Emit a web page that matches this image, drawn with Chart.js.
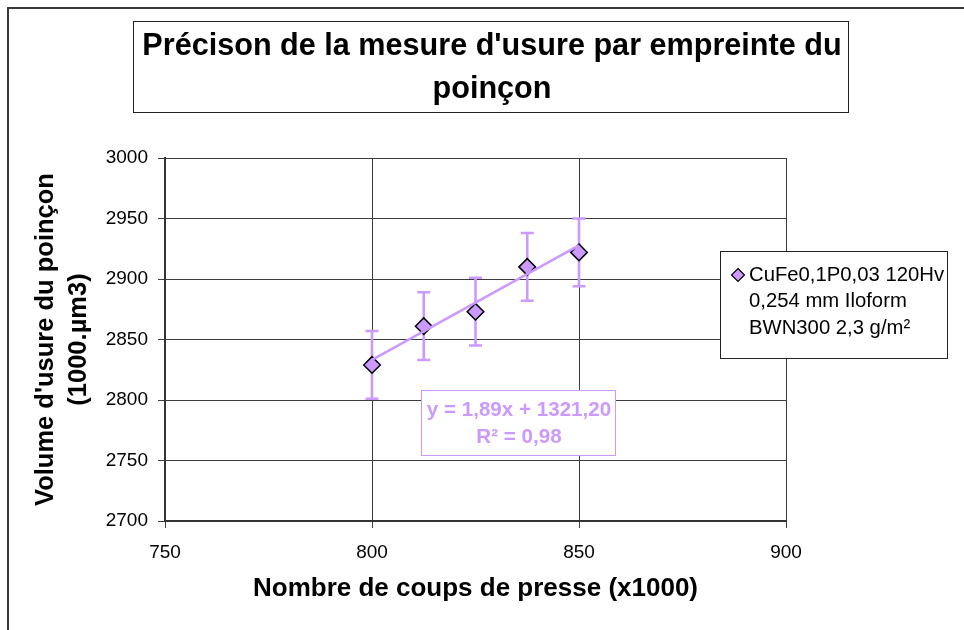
<!DOCTYPE html>
<html>
<head>
<meta charset="utf-8">
<script src="https://cdn.jsdelivr.net/npm/chart.js@4"></script>
<style>
  html, body { margin: 0; padding: 0; background: #ffffff; }
  canvas { display: block; }
</style>
</head>
<body>
<canvas id="usureChart" width="964" height="630"></canvas>
<script>
// Textes du graphique
const titre = ["Précison de la mesure d'usure par empreinte du", 'poinçon'];
const titreX = 'Nombre de coups de presse (x1000)';
const titreY = ["Volume d'usure du poinçon", '(1000.µm3)'];
const legende = ['CuFe0,1P0,03 120Hv', '0,254 mm Iloform', 'BWN300 2,3 g/m²'];

// Mesures : coups de presse (x1000), volume d'usure et barre d'erreur
const coups = [800, 812.5, 825, 837.5, 850];
const volume = [2829, 2861, 2873, 2910, 2922];
const ecart = [28, 28, 28, 28, 28];

// Graduations des axes
const ticksX = [750, 800, 850, 900];
const ticksY = [2700, 2750, 2800, 2850, 2900, 2950, 3000];

// Courbe de tendance linéaire
const pente = 1.89;
const origine = 1321.20;
const r2 = 0.98;
const tendanceX = [800, 850];

const police = "'Liberation Sans', Arial, sans-serif";
const violet = '#CC99FF';
const virgule = (v) => v.toFixed(2).replace('.', ',');

const habillage = {
    id: 'habillage',
    beforeDraw(chart) {
        const ctx = chart.ctx;
        ctx.save();
        ctx.fillStyle = '#ffffff';
        ctx.fillRect(0, 0, chart.width, chart.height);
        // cadre extérieur
        ctx.strokeStyle = '#3a3a3a';
        ctx.lineWidth = 2;
        ctx.strokeRect(8, 8, chart.width + 20, chart.height + 20);
        ctx.restore();
    },
    beforeDatasetsDraw(chart) {
        // barres d'erreur
        const ctx = chart.ctx;
        const sx = chart.scales.x, sy = chart.scales.y;
        ctx.save();
        ctx.strokeStyle = violet;
        ctx.lineWidth = 2.6;
        coups.forEach((c, i) => {
            const px = sx.getPixelForValue(c);
            const haut = sy.getPixelForValue(volume[i] + ecart[i]);
            const bas = sy.getPixelForValue(volume[i] - ecart[i]);
            ctx.beginPath();
            ctx.moveTo(px, haut); ctx.lineTo(px, bas);
            ctx.moveTo(px - 6.5, haut); ctx.lineTo(px + 6.5, haut);
            ctx.moveTo(px - 6.5, bas); ctx.lineTo(px + 6.5, bas);
            ctx.stroke();
        });
        ctx.restore();
    },
    afterDraw(chart) {
        const ctx = chart.ctx;
        ctx.save();

        // titre encadré
        ctx.fillStyle = '#ffffff';
        ctx.fillRect(133.5, 21.5, 715, 91);
        ctx.strokeStyle = '#222222';
        ctx.lineWidth = 1;
        ctx.strokeRect(133.5, 21.5, 715, 91);
        ctx.fillStyle = '#000000';
        ctx.font = 'bold 30.6px ' + police;
        ctx.textAlign = 'center';
        ctx.textBaseline = 'middle';
        ctx.fillText(titre[0], 492, 46.5);
        ctx.fillText(titre[1], 492, 90);

        // légende
        ctx.fillStyle = '#ffffff';
        ctx.fillRect(720.5, 251.5, 227, 107);
        ctx.strokeRect(720.5, 251.5, 227, 107);
        const mx = 738, my = 275, r = 6.5;
        ctx.beginPath();
        ctx.moveTo(mx, my - r); ctx.lineTo(mx + r, my);
        ctx.lineTo(mx, my + r); ctx.lineTo(mx - r, my);
        ctx.closePath();
        ctx.fillStyle = violet;
        ctx.fill();
        ctx.strokeStyle = '#000000';
        ctx.lineWidth = 1.2;
        ctx.stroke();
        ctx.fillStyle = '#000000';
        ctx.font = '20.3px ' + police;
        ctx.textAlign = 'left';
        legende.forEach((l, i) => ctx.fillText(l, 749, 275 + i * 26.5));

        // équation de la tendance
        ctx.fillStyle = '#ffffff';
        ctx.fillRect(421.5, 390.5, 194, 65);
        ctx.strokeStyle = violet;
        ctx.lineWidth = 1;
        ctx.strokeRect(421.5, 390.5, 194, 65);
        ctx.fillStyle = violet;
        ctx.font = 'bold 20.6px ' + police;
        ctx.textAlign = 'center';
        ctx.fillText('y = ' + virgule(pente) + 'x + ' + virgule(origine), 519, 410);
        ctx.fillText('R² = ' + virgule(r2), 519, 437);

        ctx.restore();
    }
};

const config = {
    type: 'scatter',
    data: {
        datasets: [{
            label: 'Tendance',
            data: tendanceX.map(x => ({ x: x, y: pente * x + origine })),
            showLine: true,
            borderColor: violet,
            borderWidth: 2.6,
            pointRadius: 0
        }, {
            label: legende.join(' '),
            data: coups.map((c, i) => ({ x: c, y: volume[i] })),
            pointStyle: 'rectRot',
            pointRadius: 8.3,
            pointBackgroundColor: violet,
            pointBorderColor: '#000000',
            pointBorderWidth: 1.5
        }]
    },
    options: {
        responsive: false,
        animation: false,
        devicePixelRatio: 1,
        layout: { padding: { left: 8, top: 158, right: 178, bottom: 0 } },
        plugins: {
            legend: { display: false },
            title: { display: false },
            tooltip: { enabled: false }
        },
        scales: {
            x: {
                type: 'linear',
                min: 750,
                max: 900,
                afterBuildTicks: (s) => { s.ticks = ticksX.map(v => ({ value: v })); },
                afterFit: (s) => { s.height = 109; },
                ticks: {
                    color: '#000000',
                    padding: 13,
                    font: { family: police, size: 19 },
                    callback: (v) => String(v)
                },
                grid: { color: '#3c3c3c', lineWidth: 1, tickLength: 7, tickColor: '#3c3c3c' },
                border: { color: '#333333', width: 2 },
                title: {
                    display: true,
                    text: titreX,
                    color: '#000000',
                    font: { family: police, size: 26, weight: 'bold', lineHeight: 1.2 },
                    padding: { top: 0, bottom: 25.5 }
                }
            },
            y: {
                type: 'linear',
                min: 2700,
                max: 3000,
                afterBuildTicks: (s) => { s.ticks = ticksY.map(v => ({ value: v })); },
                afterFit: (s) => { s.width = 157; },
                ticks: {
                    color: '#000000',
                    padding: 10,
                    font: { family: police, size: 19 },
                    callback: (v) => String(v)
                },
                grid: { color: '#3c3c3c', lineWidth: 1, tickLength: 7, tickColor: '#3c3c3c' },
                border: { color: '#333333', width: 2 },
                title: {
                    display: true,
                    text: titreY,
                    color: '#000000',
                    font: { family: police, size: 25.5, weight: 'bold', lineHeight: 1.3 },
                    padding: { top: 21, bottom: 0 }
                }
            }
        }
    },
    plugins: [habillage]
};

const usureChart = new Chart(document.getElementById('usureChart'), config);
</script>
</body>
</html>
